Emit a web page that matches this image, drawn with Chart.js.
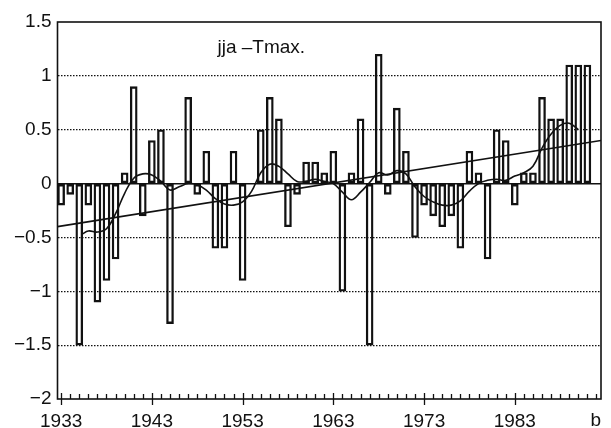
<!DOCTYPE html>
<html>
<head>
<meta charset="utf-8">
<script src="https://cdn.jsdelivr.net/npm/chart.js@4/dist/chart.umd.min.js"></script>
<style>
  html, body { margin: 0; padding: 0; background: #fff; }
  #wrap { width: 611px; height: 428px; }
</style>
</head>
<body>
<div id="wrap"><canvas id="chart"></canvas></div>
<script>
// yearly anomalies, jja Tmax
const years = [
  1933, 1934, 1935, 1936, 1937, 1938, 1939, 1940, 1941, 1942,
  1943, 1944, 1945, 1946, 1947, 1948, 1949, 1950, 1951, 1952,
  1953, 1954, 1955, 1956, 1957, 1958, 1959, 1960, 1961, 1962,
  1963, 1964, 1965, 1966, 1967, 1968, 1969, 1970, 1971, 1972,
  1973, 1974, 1975, 1976, 1977, 1978, 1979, 1980, 1981, 1982,
  1983, 1984, 1985, 1986, 1987, 1988, 1989, 1990, 1991
];
const anomalies = [
  -0.2, -0.1, -1.5, -0.2, -1.1, -0.9, -0.7, 0.1, 0.9, -0.3,
  0.4, 0.5, -1.3, 0, 0.8, -0.1, 0.3, -0.6, -0.6, 0.3,
  -0.9, 0, 0.5, 0.8, 0.6, -0.4, -0.1, 0.2, 0.2, 0.1,
  0.3, -1.0, 0.1, 0.6, -1.5, 1.2, -0.1, 0.7, 0.3, -0.5,
  -0.2, -0.3, -0.4, -0.3, -0.6, 0.3, 0.1, -0.7, 0.5, 0.4,
  -0.2, 0.1, 0.1, 0.8, 0.6, 0.6, 1.1, 1.1, 1.1
];

// low-pass filtered curve
const smoothYears = [
  1935.3, 1936, 1937, 1938, 1939, 1940, 1941, 1942, 1943, 1944,
  1945, 1946, 1947, 1948, 1949, 1950, 1951, 1952, 1953, 1954,
  1955, 1956, 1957, 1958, 1959, 1960, 1961, 1962, 1963, 1964,
  1965, 1966, 1967, 1968, 1969, 1970, 1971, 1972, 1973, 1974,
  1975, 1976, 1977, 1978, 1979, 1980, 1981, 1982, 1983, 1984,
  1985, 1986, 1987, 1988, 1989, 1990
];
const smoothValues = [
  -0.47, -0.44, -0.45, -0.42, -0.28, -0.09, 0.05, 0.09, 0.08, 0.02,
  -0.06, -0.03, 0.0, -0.01, -0.06, -0.14, -0.19, -0.2, -0.17, -0.07,
  0.1, 0.18, 0.16, 0.09, 0.02, 0.02, 0.04, 0.02, 0.0, -0.08,
  -0.15, -0.08, 0.01, 0.1, 0.08, 0.12, 0.09, -0.03, -0.12, -0.17,
  -0.2, -0.2, -0.16, -0.07, 0.0, 0.03, 0.04, 0.03, 0.07, 0.1,
  0.16, 0.33, 0.46, 0.54, 0.56, 0.5
];

// linear trend end points
const trendYears = [1932.6, 1992.5];
const trendValues = [-0.40, 0.40];

const xLabelYears = [1933, 1943, 1953, 1963, 1973, 1983];
const xMin = 1932.6;
const xMax = 1992.5;
const titleText = 'jja \u2013Tmax.';
const panelLabel = 'b';

const FONT = '"Liberation Sans", Arial, Helvetica, sans-serif';
const INK = '#111';

const toPoints = (xs, ys) => xs.map((x, i) => ({ x: x, y: ys[i] }));

const framePlugin = {
  id: 'frame',
  afterDatasetsDraw(chart) {
    const { ctx, chartArea: a, scales: { x } } = chart;
    ctx.save();
    ctx.strokeStyle = INK;
    ctx.lineWidth = 1.6;
    ctx.strokeRect(a.left, a.top, a.right - a.left, a.bottom - a.top);
    // year ticks on the bottom axis
    ctx.lineWidth = 1.3;
    ctx.beginPath();
    for (let yr = 1933; yr <= 1992; yr++) {
      const px = Math.round(x.getPixelForValue(yr)) + 0.5;
      const major = (yr - 1933) % 10 === 0;
      ctx.moveTo(px, a.bottom - (major ? 6 : 5));
      ctx.lineTo(px, a.bottom + (major ? 6 : 0));
    }
    ctx.stroke();
    ctx.fillStyle = INK;
    ctx.font = '19px ' + FONT;
    ctx.textBaseline = 'alphabetic';
    ctx.textAlign = 'left';
    ctx.fillText(titleText, a.left + 160, a.top + 31);
    ctx.textAlign = 'right';
    ctx.fillText(panelLabel, a.right, 426);
    ctx.restore();
  }
};

new Chart(document.getElementById('chart'), {
  type: 'bar',
  data: {
    datasets: [
      {
        type: 'line',
        data: toPoints(smoothYears, smoothValues),
        borderColor: INK,
        borderWidth: 1.6,
        pointRadius: 0,
        tension: 0.4,
        fill: false,
        order: 1
      },
      {
        type: 'line',
        data: toPoints(trendYears, trendValues),
        borderColor: INK,
        borderWidth: 1.6,
        pointRadius: 0,
        fill: false,
        order: 1
      },
      {
        type: 'bar',
        data: toPoints(years, anomalies),
        backgroundColor: 'rgba(255,255,255,0)',
        borderColor: INK,
        borderWidth: 1.7,
        borderSkipped: false,
        barThickness: 7,
        order: 2
      }
    ]
  },
  options: {
    responsive: true,
    maintainAspectRatio: false,
    animation: false,
    layout: { padding: { top: 22, right: 10, left: 0, bottom: 0 } },
    plugins: {
      legend: { display: false },
      tooltip: { enabled: false },
      title: { display: false }
    },
    scales: {
      x: {
        type: 'linear',
        min: xMin,
        max: xMax,
        offset: false,
        afterBuildTicks: scale => {
          scale.ticks = xLabelYears.map(v => ({ value: v }));
        },
        afterFit: scale => { scale.height = 29; },
        grid: { display: false, offset: false },
        border: { display: false },
        ticks: {
          color: INK,
          font: { family: FONT, size: 19 },
          padding: 3,
          maxRotation: 0,
          autoSkip: false,
          callback: v => String(v)
        }
      },
      y: {
        min: -2,
        max: 1.5,
        afterFit: scale => { scale.width = 57.5; },
        grid: {
          color: ctx => (ctx.tick && (ctx.tick.value === 1.5 || ctx.tick.value === -2)) ? 'rgba(0,0,0,0)' : INK,
          lineWidth: ctx => (ctx.tick && ctx.tick.value === 0) ? 1.6 : 1.2,
          drawTicks: false
        },
        border: {
          display: false,
          dash: ctx => (ctx.tick && ctx.tick.value === 0) ? [] : [1.5, 1.5]
        },
        ticks: {
          stepSize: 0.5,
          color: INK,
          font: { family: FONT, size: 19 },
          padding: 6,
          callback: v => String(v).replace('-', '\u2212')
        }
      }
    }
  },
  plugins: [framePlugin]
});
</script>
</body>
</html>
